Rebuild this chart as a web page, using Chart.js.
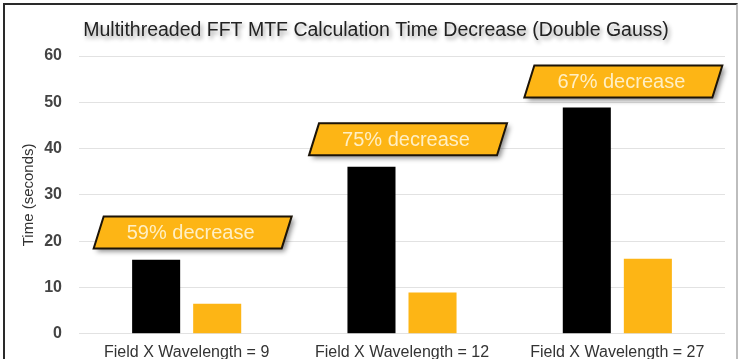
<!DOCTYPE html>
<html>
<head>
<meta charset="utf-8">
<script src="https://cdn.jsdelivr.net/npm/chart.js@4.4.1/dist/chart.umd.min.js"></script>
<style>
    html, body { margin: 0; padding: 0; background: #fff; overflow: hidden; }
    #frame {
        position: absolute; left: 3px; top: 3px; width: 731px; height: 400px;
        border-left: 2px solid #2a2a2a; border-top: 2px solid #2a2a2a; border-right: 2px solid #bdbdbd;
    }
    #wrap { position: absolute; left: 0; top: 0; width: 740px; height: 371px; }
</style>
</head>
<body>
<div id="frame"></div>
<div id="wrap"><canvas id="chart"></canvas></div>
<script>
// Chart data
var chartTitle = "Multithreaded FFT MTF Calculation Time Decrease (Double Gauss)";
var categories = ["Field X Wavelength = 9", "Field X Wavelength = 12", "Field X Wavelength = 27"];
var singleThread = [16.0, 36.1, 48.9];
var multiThread = [6.5, 8.9, 16.2];
var calloutLabels = ["59% decrease", "75% decrease", "67% decrease"];
var calloutLevels = [21.9, 42.0, 54.5];
var yTicks = [0, 10, 20, 30, 40, 50, 60];

var orange = "#FDB515";
var fontFamily = "'Liberation Sans', Arial, sans-serif";

// Title with a soft drop shadow (the built-in title can't do shadows)
var titlePlugin = {
    id: "shadowTitle",
    afterDraw: function (chart) {
        var ctx = chart.ctx;
        ctx.save();
        ctx.font = "19.5px " + fontFamily;
        ctx.textAlign = "center";
        ctx.textBaseline = "middle";
        ctx.shadowColor = "rgba(0,0,0,0.4)";
        ctx.shadowBlur = 4;
        ctx.shadowOffsetX = 2;
        ctx.shadowOffsetY = 3;
        ctx.fillStyle = "#222";
        ctx.fillText(chartTitle, 376, 31);
        ctx.restore();
    }
};

// Draws the slanted "decrease" boxes above each group
var calloutPlugin = {
    id: "callouts",
    afterDatasetsDraw: function (chart) {
        var ctx = chart.ctx;
        var x = chart.scales.x;
        var y = chart.scales.y;
        var w = 198, h = 32, skew = 10;
        calloutLabels.forEach(function (text, i) {
            var cx = x.getPixelForValue(i) + 6;
            var cy = y.getPixelForValue(calloutLevels[i]);
            var l = cx - w / 2, t = cy - h / 2;
            ctx.save();
            ctx.beginPath();
            ctx.moveTo(l + skew, t);
            ctx.lineTo(l + w, t);
            ctx.lineTo(l + w - skew, t + h);
            ctx.lineTo(l, t + h);
            ctx.closePath();
            ctx.shadowColor = "rgba(0,0,0,0.45)";
            ctx.shadowBlur = 5;
            ctx.shadowOffsetX = 3;
            ctx.shadowOffsetY = 3;
            ctx.fillStyle = orange;
            ctx.fill();
            ctx.shadowColor = "transparent";
            ctx.lineWidth = 2;
            ctx.strokeStyle = "#1c1408";
            ctx.stroke();
            ctx.fillStyle = "#FFEFC4";
            ctx.font = "20px " + fontFamily;
            ctx.textAlign = "center";
            ctx.textBaseline = "middle";
            ctx.fillText(text, cx - 2, cy + 1);
            ctx.restore();
        });
    }
};

new Chart(document.getElementById("chart"), {
    type: "bar",
    data: {
        labels: categories,
        datasets: [
            {
                label: "Single thread",
                data: singleThread,
                backgroundColor: "#000000",
                categoryPercentage: 0.567,
                barPercentage: 0.787
            },
            {
                label: "Multithreaded",
                data: multiThread,
                backgroundColor: orange,
                categoryPercentage: 0.567,
                barPercentage: 0.787
            }
        ]
    },
    options: {
        responsive: true,
        maintainAspectRatio: false,
        animation: false,
        layout: {
            padding: { left: 0, right: 15, top: 56, bottom: 0 }
        },
        plugins: {
            legend: { display: false },
            tooltip: { enabled: false },
            title: { display: false }
        },
        scales: {
            x: {
                grid: { display: false, drawTicks: false },
                border: { display: false },
                ticks: {
                    color: "#333",
                    padding: 9,
                    maxRotation: 0,
                    font: { family: fontFamily, size: 16 }
                }
            },
            y: {
                min: 0,
                max: 60,
                afterBuildTicks: function (scale) {
                    scale.ticks = yTicks.map(function (v) { return { value: v }; });
                },
                afterFit: function (scale) {
                    scale.width = 79;
                },
                grid: { color: "#e2e2e2", drawTicks: false },
                border: { display: false },
                ticks: {
                    color: "#444",
                    padding: 17,
                    font: { family: fontFamily, size: 16, weight: "bold" }
                },
                title: {
                    display: true,
                    text: "Time (seconds)",
                    color: "#333",
                    padding: { top: 20, bottom: 0 },
                    font: { family: fontFamily, size: 15 }
                }
            }
        }
    },
    plugins: [calloutPlugin, titlePlugin]
});
</script>
</body>
</html>
